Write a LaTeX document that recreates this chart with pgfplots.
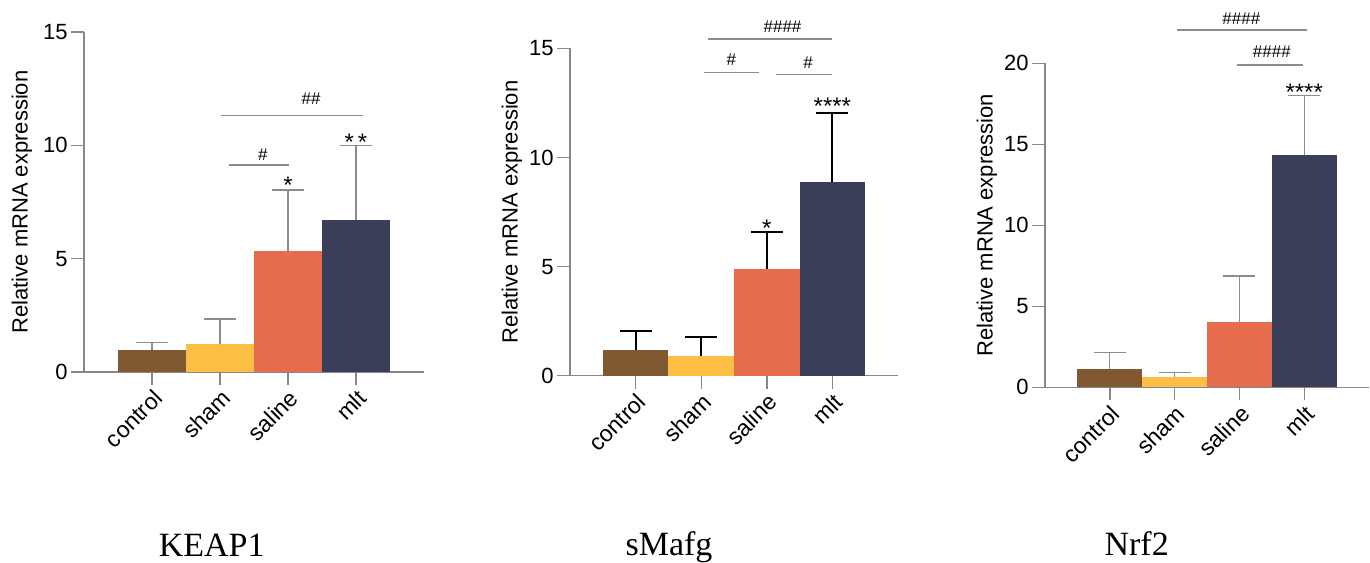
\documentclass[border=0pt]{standalone}
\usepackage{pgfplots}
\pgfplotsset{compat=1.18}
\usepackage{fontspec}
\setmainfont{Liberation Sans}
\newfontfamily\timesf{Liberation Serif}
\definecolor{cbrown}{RGB}{128,88,50}
\definecolor{cyellow}{RGB}{252,190,68}
\definecolor{corange}{RGB}{229,108,78}
\definecolor{cnavy}{RGB}{59,62,88}
\definecolor{axgray}{RGB}{135,135,135}
\definecolor{brgray}{RGB}{140,140,140}
\pgfplotsset{
  mypanel/.style={
    scale only axis, xmin=-1, xmax=4, ymin=0, clip=false,
    axis x line=bottom, axis y line=left,
    axis line style={-, axgray, line width=0.7pt},
    xtick={0,1,2,3}, xticklabels={control,sham,saline,mlt},
    tick align=outside, major tick length=6.5pt,
    tick style={axgray, line width=0.7pt},
    xticklabel style={rotate=45, anchor=north east, inner sep=1pt, font=\fontsize{11.5}{13}\selectfont},
    yticklabel style={inner sep=1.5pt, font=\fontsize{11}{13}\selectfont},
    /pgf/number format/assume math mode=true,
    ylabel={Relative mRNA expression},
    ylabel style={font=\fontsize{11}{13}\selectfont},
  },
  bstyle/.style={ybar, bar width=1, bar shift=0pt, draw=none, fill=#1},
  errs/.style 2 args={error bars/.cd, y dir=plus, y explicit,
    error bar style={line width=#1, color=#2},
    error mark options={rotate=90, line width=#1, mark size=8pt, color=#2}},
}
\newcommand{\stars}[2]{\node[font=\fontsize{12}{14}\selectfont, yshift=-2.6pt] at (axis cs:#1) {#2};}
\newcommand{\hashes}[2]{\node[font=\fontsize{8.5}{10}\selectfont, inner sep=0pt] at (axis cs:#1) {#2};}
\newcommand{\bracket}[3]{\draw[brgray, line width=0.6pt] (axis cs:#1,#3) -- (axis cs:#2,#3);}
\begin{document}
\begin{tikzpicture}
\path[use as bounding box] (0,0) rectangle (685pt,-281pt);
% Panel 1: KEAP1
\begin{axis}[mypanel, at={(42pt,-186pt)}, anchor=south west,
  width=170pt, height=170pt, ymax=15, ytick={0,5,10,15},
  ylabel style={at={([xshift=-31pt]axis description cs:0,0.5)}, anchor=center}]
\addplot[bstyle=cbrown, errs={0.6pt}{brgray}] coordinates {(0,0.97) +- (0,0.34)};
\addplot[bstyle=cyellow, errs={0.6pt}{brgray}] coordinates {(1,1.22) +- (0,1.12)};
\addplot[bstyle=corange, errs={0.6pt}{brgray}] coordinates {(2,5.35) +- (0,2.68)};
\addplot[bstyle=cnavy, errs={0.6pt}{brgray}] coordinates {(3,6.70) +- (0,3.28)};
\bracket{1.13}{2.01}{9.13}
\bracket{1.01}{3.10}{11.3}
\hashes{1.63,9.57}{\#}
\hashes{2.34,12.04}{\#\#}
\stars{2,8.47}{*}
\stars{3,10.38}{*\,*}
\end{axis}
% Panel 2: sMafg
\begin{axis}[mypanel, at={(285pt,-187.85pt)}, anchor=south west,
  width=164pt, height=163.7pt, ymax=15, ytick={0,5,10,15},
  ylabel style={at={([xshift=-29pt]axis description cs:0,0.5)}, anchor=center}]
\addplot[bstyle=cbrown, errs={1pt}{black}] coordinates {(0,1.18) +- (0,0.87)};
\addplot[bstyle=cyellow, errs={1pt}{black}] coordinates {(1,0.90) +- (0,0.86)};
\addplot[bstyle=corange, errs={1pt}{black}] coordinates {(2,4.88) +- (0,1.70)};
\addplot[bstyle=cnavy, errs={1pt}{black}] coordinates {(3,8.87) +- (0,3.17)};
\bracket{1.05}{1.88}{13.9}
\bracket{2.14}{3.00}{13.79}
\bracket{1.10}{3.00}{15.43}
\hashes{1.46,14.48}{\#}
\hashes{2.63,14.33}{\#}
\hashes{2.24,16.01}{\#\#\#\#}
\stars{2,6.99}{*}
\stars{3,12.57}{****}
\end{axis}
% Panel 3: Nrf2
\begin{axis}[mypanel, at={(522.5pt,-193.65pt)}, anchor=south west,
  width=162pt, height=162pt, ymax=20, ytick={0,5,10,15,20},
  ylabel style={at={([xshift=-29pt]axis description cs:0,0.5)}, anchor=center}]
\addplot[bstyle=cbrown, errs={0.6pt}{brgray}] coordinates {(0,1.13) +- (0,1.03)};
\addplot[bstyle=cyellow, errs={0.6pt}{brgray}] coordinates {(1,0.66) +- (0,0.24)};
\addplot[bstyle=corange, errs={0.6pt}{brgray}] coordinates {(2,4.05) +- (0,2.82)};
\addplot[bstyle=cnavy, errs={0.6pt}{brgray}] coordinates {(3,14.32) +- (0,3.68)};
\bracket{1.03}{3.05}{22.06}
\bracket{1.97}{2.98}{19.9}
\hashes{2.03,22.78}{\#\#\#\#}
\hashes{2.50,20.72}{\#\#\#\#}
\stars{3,18.55}{****}
\end{axis}
\node[font=\timesf\fontsize{17}{20}\selectfont, anchor=base] at (105.85pt,-278.35pt) {KEAP1};
\node[font=\timesf\fontsize{17}{20}\selectfont, anchor=base] at (334.5pt,-277.5pt) {sMafg};
\node[font=\timesf\fontsize{17}{20}\selectfont, anchor=base] at (568.35pt,-277.5pt) {Nrf2};
\end{tikzpicture}
\end{document}
